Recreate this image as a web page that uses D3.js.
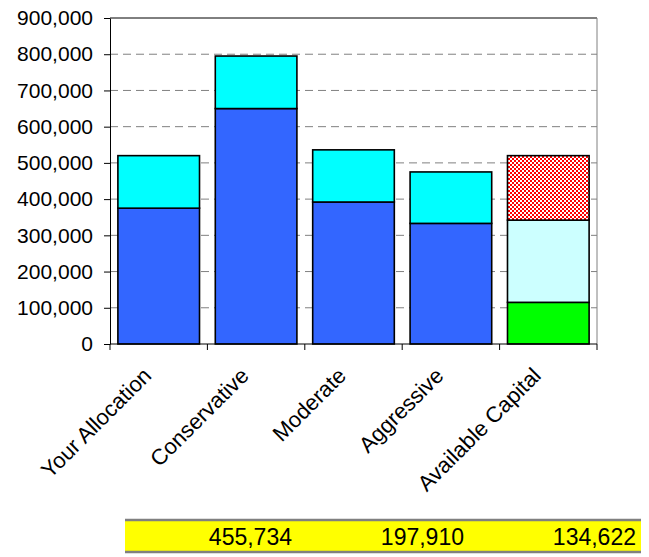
<!DOCTYPE html>
<html>
<head>
<meta charset="utf-8">
<script src="https://cdn.jsdelivr.net/npm/d3@7"></script>
<style>
  body { margin: 0; background: #fff; }
  svg { display: block; font-family: "Liberation Sans", Arial, sans-serif; }
</style>
</head>
<body>
<div id="chart"></div>
<script>
var categories = ["Your Allocation", "Conservative", "Moderate", "Aggressive", "Available Capital"];
var baseValues = [375000, 650000, 392000, 333000, 0];
var growthValues = [145000, 145000, 144000, 142000, 0];
var cashValues = [0, 0, 0, 0, 115000];
var freeValues = [0, 0, 0, 0, 227000];
var overValues = [0, 0, 0, 0, 178000];
var yTicks = [0, 100000, 200000, 300000, 400000, 500000, 600000, 700000, 800000, 900000];
var tableValues = [455734, 197910, 134622];

var width = 649, height = 557;
var margin = { top: 18, right: 52, bottom: 213, left: 110 };

var svg = d3.select("#chart")
    .append("svg")
    .attr("width", width)
    .attr("height", height);

// checkered fill for the over-allocated part
var pat = svg.append("defs").append("pattern")
    .attr("id", "checks")
    .attr("width", 4)
    .attr("height", 4)
    .attr("patternUnits", "userSpaceOnUse");
pat.append("rect").attr("width", 4).attr("height", 4).attr("fill", "#ff0000");
pat.append("rect").attr("width", 2).attr("height", 2).attr("fill", "#ffffff");
pat.append("rect").attr("x", 2).attr("y", 2).attr("width", 2).attr("height", 2).attr("fill", "#ffffff");

var keys = ["base", "growth", "cash", "free", "over"];
var colors = { base: "#3366ff", growth: "#00ffff", cash: "#00ff00", free: "#ccffff", over: "url(#checks)" };

var rows = categories.map(function (c, i) {
    return { cat: c, base: baseValues[i], growth: growthValues[i], cash: cashValues[i], free: freeValues[i], over: overValues[i] };
});
var stacked = d3.stack().keys(keys)(rows);

var x = d3.scaleBand()
    .domain(categories)
    .range([margin.left, width - margin.right])
    .paddingInner(0.162)
    .paddingOuter(0.081);

var y = d3.scaleLinear()
    .domain([0, 900000])
    .range([height - margin.bottom, margin.top]);

var fmt = d3.format(",");

// dashed gridlines
svg.append("g")
    .selectAll("line")
    .data(yTicks.filter(function (t) { return t > 0 && t < 900000; }))
    .enter()
    .append("line")
    .attr("x1", margin.left)
    .attr("x2", width - margin.right)
    .attr("y1", function (d) { return y(d); })
    .attr("y2", function (d) { return y(d); })
    .style("stroke", "#808080")
    .style("stroke-dasharray", "8,5");

// top and right frame
svg.append("line")
    .attr("x1", margin.left).attr("x2", width - margin.right)
    .attr("y1", y(900000)).attr("y2", y(900000))
    .style("stroke", "#000");
svg.append("line")
    .attr("x1", width - margin.right).attr("x2", width - margin.right)
    .attr("y1", y(900000)).attr("y2", y(0))
    .style("stroke", "#808080");

// bars
svg.append("g")
    .selectAll("g")
    .data(stacked)
    .enter()
    .append("g")
    .attr("fill", function (d) { return colors[d.key]; })
    .selectAll("rect")
    .data(function (d) { return d.filter(function (s) { return s[1] > s[0]; }); })
    .enter()
    .append("rect")
    .attr("x", function (d) { return x(d.data.cat); })
    .attr("y", function (d) { return y(d[1]); })
    .attr("width", x.bandwidth())
    .attr("height", function (d) { return y(d[0]) - y(d[1]); })
    .style("stroke", "#000")
    .style("stroke-width", 1.6);

// y axis
var yAxis = svg.append("g")
    .attr("transform", "translate(" + margin.left + ",0)")
    .call(d3.axisLeft(y).tickValues(yTicks).tickFormat(fmt).tickSize(6).tickSizeOuter(0));
yAxis.select(".domain").style("stroke", "#000");
yAxis.selectAll("text")
    .attr("x", -17)
    .style("font-size", "21px")
    .style("font-family", "Liberation Sans, Arial, sans-serif")
    .style("fill", "#000");

// x axis line and ticks at band edges
var x0 = y(0);
svg.append("line")
    .attr("x1", margin.left).attr("x2", width - margin.right)
    .attr("y1", x0).attr("y2", x0)
    .style("stroke", "#000");
var edges = categories.map(function (c) { return x(c) - x.step() * x.paddingInner() / 2; });
edges.push(width - margin.right);
svg.append("g")
    .selectAll("line")
    .data(edges)
    .enter()
    .append("line")
    .attr("x1", function (d) { return d; })
    .attr("x2", function (d) { return d; })
    .attr("y1", x0)
    .attr("y2", x0 + 6)
    .style("stroke", "#000");

// rotated category labels
svg.append("g")
    .selectAll("text")
    .data(categories)
    .enter()
    .append("text")
    .attr("transform", function (d) {
        return "translate(" + (x(d) + x.bandwidth() / 2 - 6) + "," + (x0 + 33) + ") rotate(-45)";
    })
    .attr("text-anchor", "end")
    .style("font-size", "22px")
    .text(function (d) { return d; });

// value strip under the chart
var tbl = { left: 125, right: 641, top: 519, bottom: 553 };
var colW = (tbl.right - tbl.left) / tableValues.length;
svg.append("rect")
    .attr("x", tbl.left)
    .attr("y", tbl.top)
    .attr("width", tbl.right - tbl.left)
    .attr("height", tbl.bottom - tbl.top)
    .attr("fill", "#ffff00");
[tbl.top + 1, tbl.bottom - 1].forEach(function (yy) {
    svg.append("line")
        .attr("x1", tbl.left).attr("x2", tbl.right)
        .attr("y1", yy).attr("y2", yy)
        .style("stroke", "#808080")
        .style("stroke-width", 2.5);
});
svg.append("g")
    .selectAll("text")
    .data(tableValues)
    .enter()
    .append("text")
    .attr("x", function (d, i) { return tbl.left + colW * (i + 1) - 5; })
    .attr("y", 545)
    .attr("text-anchor", "end")
    .style("font-size", "23px")
    .text(function (d) { return fmt(d); });
</script>
</body>
</html>
